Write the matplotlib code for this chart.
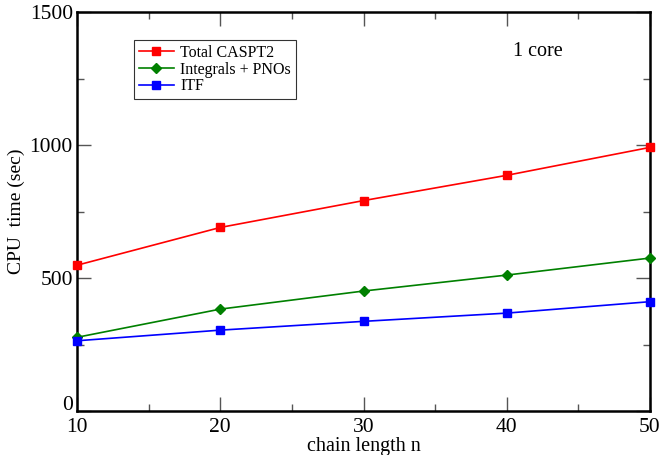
import matplotlib
matplotlib.use("Agg")
import matplotlib.pyplot as plt
from matplotlib.ticker import MultipleLocator, FuncFormatter

chain_length = [10, 20, 30, 40, 50]
total_caspt2 = [548, 690, 791, 886, 991]
integrals_pnos = [277, 383, 451, 511, 575]
itf = [264, 304, 337, 368, 411]

plt.rcParams['font.family'] = ['Liberation Serif', 'DejaVu Serif']

fig = plt.figure(figsize=(6.6, 4.55), dpi=100)
ax = fig.add_axes([77/660, 1 - 411/455, (650-77)/660, (411-12)/455])

ax.plot(chain_length, total_caspt2, color='#ff0000', marker='s', markersize=6, lw=1.2, label='Total CASPT2', clip_on=False, zorder=3)
ax.plot(chain_length, integrals_pnos, color='#008000', marker='D', markersize=5, lw=1.2, label='Integrals + PNOs', clip_on=False, zorder=3)
ax.plot(chain_length, itf, color='#0000ff', marker='s', markersize=6, lw=1.2, label='ITF', clip_on=False, zorder=3)

ax.set_xlim(10, 50)
ax.set_ylim(0, 1500)
ax.xaxis.set_major_locator(MultipleLocator(10))
ax.xaxis.set_minor_locator(MultipleLocator(5))
ax.yaxis.set_major_locator(MultipleLocator(500))
ax.yaxis.set_minor_locator(MultipleLocator(250))
# the "0" label is drawn separately, slightly raised as in the reference
ax.yaxis.set_major_formatter(FuncFormatter(lambda v, p: '' if v == 0 else f'{v:g}'))
ax.tick_params(which='both', direction='in', top=True, right=True, color='#555555', labelsize=15.5)
ax.tick_params(axis='x', which='both', pad=5)
ax.tick_params(axis='y', which='both', pad=3)
ax.tick_params(which='major', length=10, width=1)
ax.tick_params(which='minor', length=5, width=1)
for s in ax.spines.values():
    s.set_linewidth(1.8)

ax.annotate('0', xy=(0, 0), xycoords=('axes fraction', 'data'), xytext=(-3, 4),
            textcoords='offset points', ha='right', va='center', fontsize=15.5)

ax.set_xlabel('chain length n', fontsize=14.5, labelpad=0)
ax.set_ylabel('CPU  time (sec)', fontsize=14, labelpad=3)

leg = ax.legend(loc='upper left', bbox_to_anchor=((134-77)/573, 1 - (40-12)/399), fontsize=11.5,
                frameon=True, fancybox=False, edgecolor='black', handlelength=2.2,
                borderpad=0.3, labelspacing=0.05, handletextpad=0.4, borderaxespad=0)
leg.get_frame().set_linewidth(0.8)

ax.text((513-77)/573, 1 - (52-12)/399, '1 core', transform=ax.transAxes, fontsize=14.5, ha='left', va='center')

fig.savefig('out.png', dpi=100)
